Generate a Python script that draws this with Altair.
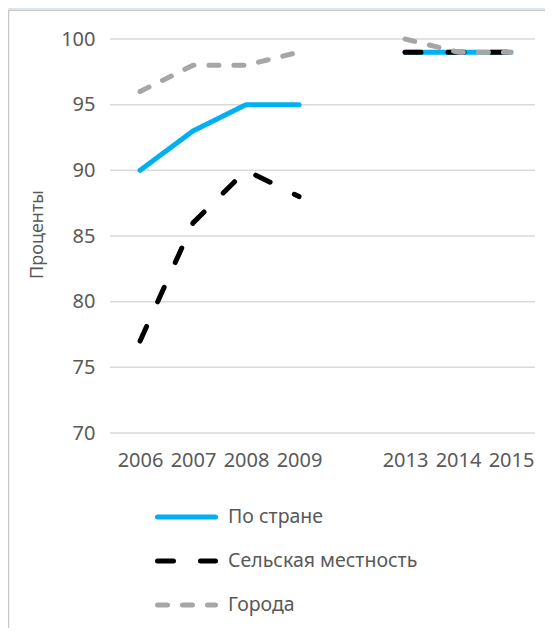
import altair as alt
import pandas as pd

# ---- data ----
years = ["2006", "2007", "2008", "2009", " ", "2013", "2014", "2015"]
series = ["По стране", "Сельская местность", "Города"]
country = [90, 93, 95, 95, None, 99, 99, 99]
rural = [77, 86, 90, 88, None, 99, 99, 99]
urban = [96, 98, 98, 99, None, 100, 99, 99]
y_ticks = [70, 75, 80, 85, 90, 95, 100]

# ---- styles ----
colors = ["#00b0f0", "#000000", "#a6a6a6"]
dashes = [[1, 0], [16, 27], [10, 15]]
widths = [5, 5, 6]
FONT = "Noto Sans"
TXT = "#595959"

rows = []
for name, vals in zip(series, [country, rural, urban]):
    for i, (yr, v) in enumerate(zip(years, vals)):
        if v is not None:
            rows.append({"series": name, "year": yr, "value": v, "seg": 0 if i < 4 else 1})
df = pd.DataFrame(rows)
leg = pd.DataFrame({"series": series})
grid_df = pd.DataFrame({"value": y_ticks})
bg = pd.DataFrame({"a": [0]})

color_scale = alt.Scale(domain=series, range=colors)
dash_scale = alt.Scale(domain=series, range=dashes)
width_scale = alt.Scale(domain=series, range=widths)

x_enc = alt.X(
    "year:O",
    scale=alt.Scale(type="point", domain=years, padding=0.51, align=0.556),
    axis=alt.Axis(
        title=None, labelAngle=0, domain=False, ticks=False, tickSize=0, grid=False,
        labelPadding=17, labelFont=FONT, labelFontSize=20, labelColor=TXT,
    ),
)
y_scale = alt.Scale(domain=[70, 100], zero=False, nice=False)
y_enc = alt.Y(
    "value:Q",
    scale=y_scale,
    axis=alt.Axis(
        values=y_ticks, grid=False,
        domain=False, ticks=False, tickSize=0, labelPadding=15,
        labelFont=FONT, labelFontSize=20, labelColor=TXT,
        title="Проценты", titleFont=FONT, titleFontSize=18, titleFontWeight="normal",
        titleColor=TXT, titleX=-73, titleY=195, titleAngle=270,
        titleBaseline="middle", titleAlign="center",
    ),
)

# horizontal gridlines across the whole plot width
grid = alt.Chart(grid_df).mark_rule(color="#d9d9d9", strokeWidth=1.5).encode(
    y=y_enc, x=alt.value(0), x2=alt.value(425)
)

# light-blue frame strip (top) and grey left border of the original card
top_strip = alt.Chart(bg).mark_rect(fill="#dce6f2", stroke="#c8c8c8", strokeWidth=1).encode(
    x=alt.value(-103), x2=alt.value(460), y=alt.value(-32), y2=alt.value(-28.5)
)
left_strip = alt.Chart(bg).mark_rule(color="#c8c8c8", strokeWidth=1.5).encode(
    x=alt.value(-101.5), y=alt.value(-28.5), y2=alt.value(640)
)


def line_layer(name):
    return (
        alt.Chart(df)
        .transform_filter(alt.datum.series == name)
        .mark_line(strokeCap="round", strokeJoin="round")
        .encode(
            x=x_enc,
            y=y_enc,
            color=alt.Color("series:N", scale=color_scale, legend=None),
            strokeDash=alt.StrokeDash("series:N", scale=dash_scale, legend=None),
            strokeWidth=alt.StrokeWidth("series:N", scale=width_scale, legend=None),
            detail="seg:N",
        )
    )


main = alt.layer(grid, *[line_layer(s) for s in series])

leg_y = alt.Y(
    "series:N", scale=alt.Scale(type="point", domain=series, range=[478, 566], padding=0), axis=None
)
leg_rule = alt.Chart(leg).mark_rule(strokeCap="round").encode(
    x=alt.value(47.5),
    x2=alt.value(105.5),
    y=leg_y,
    color=alt.Color("series:N", scale=color_scale, legend=None),
    strokeDash=alt.StrokeDash("series:N", scale=dash_scale, legend=None),
    strokeWidth=alt.StrokeWidth("series:N", scale=width_scale, legend=None),
)
leg_text = alt.Chart(leg).mark_text(
    align="left", baseline="middle", font=FONT, fontSize=19.5, color=TXT
).encode(x=alt.value(118), y=leg_y, text="series:N")
legend = alt.layer(leg_rule, leg_text)

chart = (
    alt.layer(main, top_strip, left_strip, legend)
    .resolve_scale(y="independent")
    .properties(
        width=425,
        height=394,
        autosize=alt.AutoSizeParams(type="none"),
        padding={"left": 102, "top": 31, "right": 10, "bottom": 195},
    )
    .configure(background="white")
    .configure_view(stroke=None)
)

chart.save("out.html", embed_options={"renderer": "svg", "actions": False})
